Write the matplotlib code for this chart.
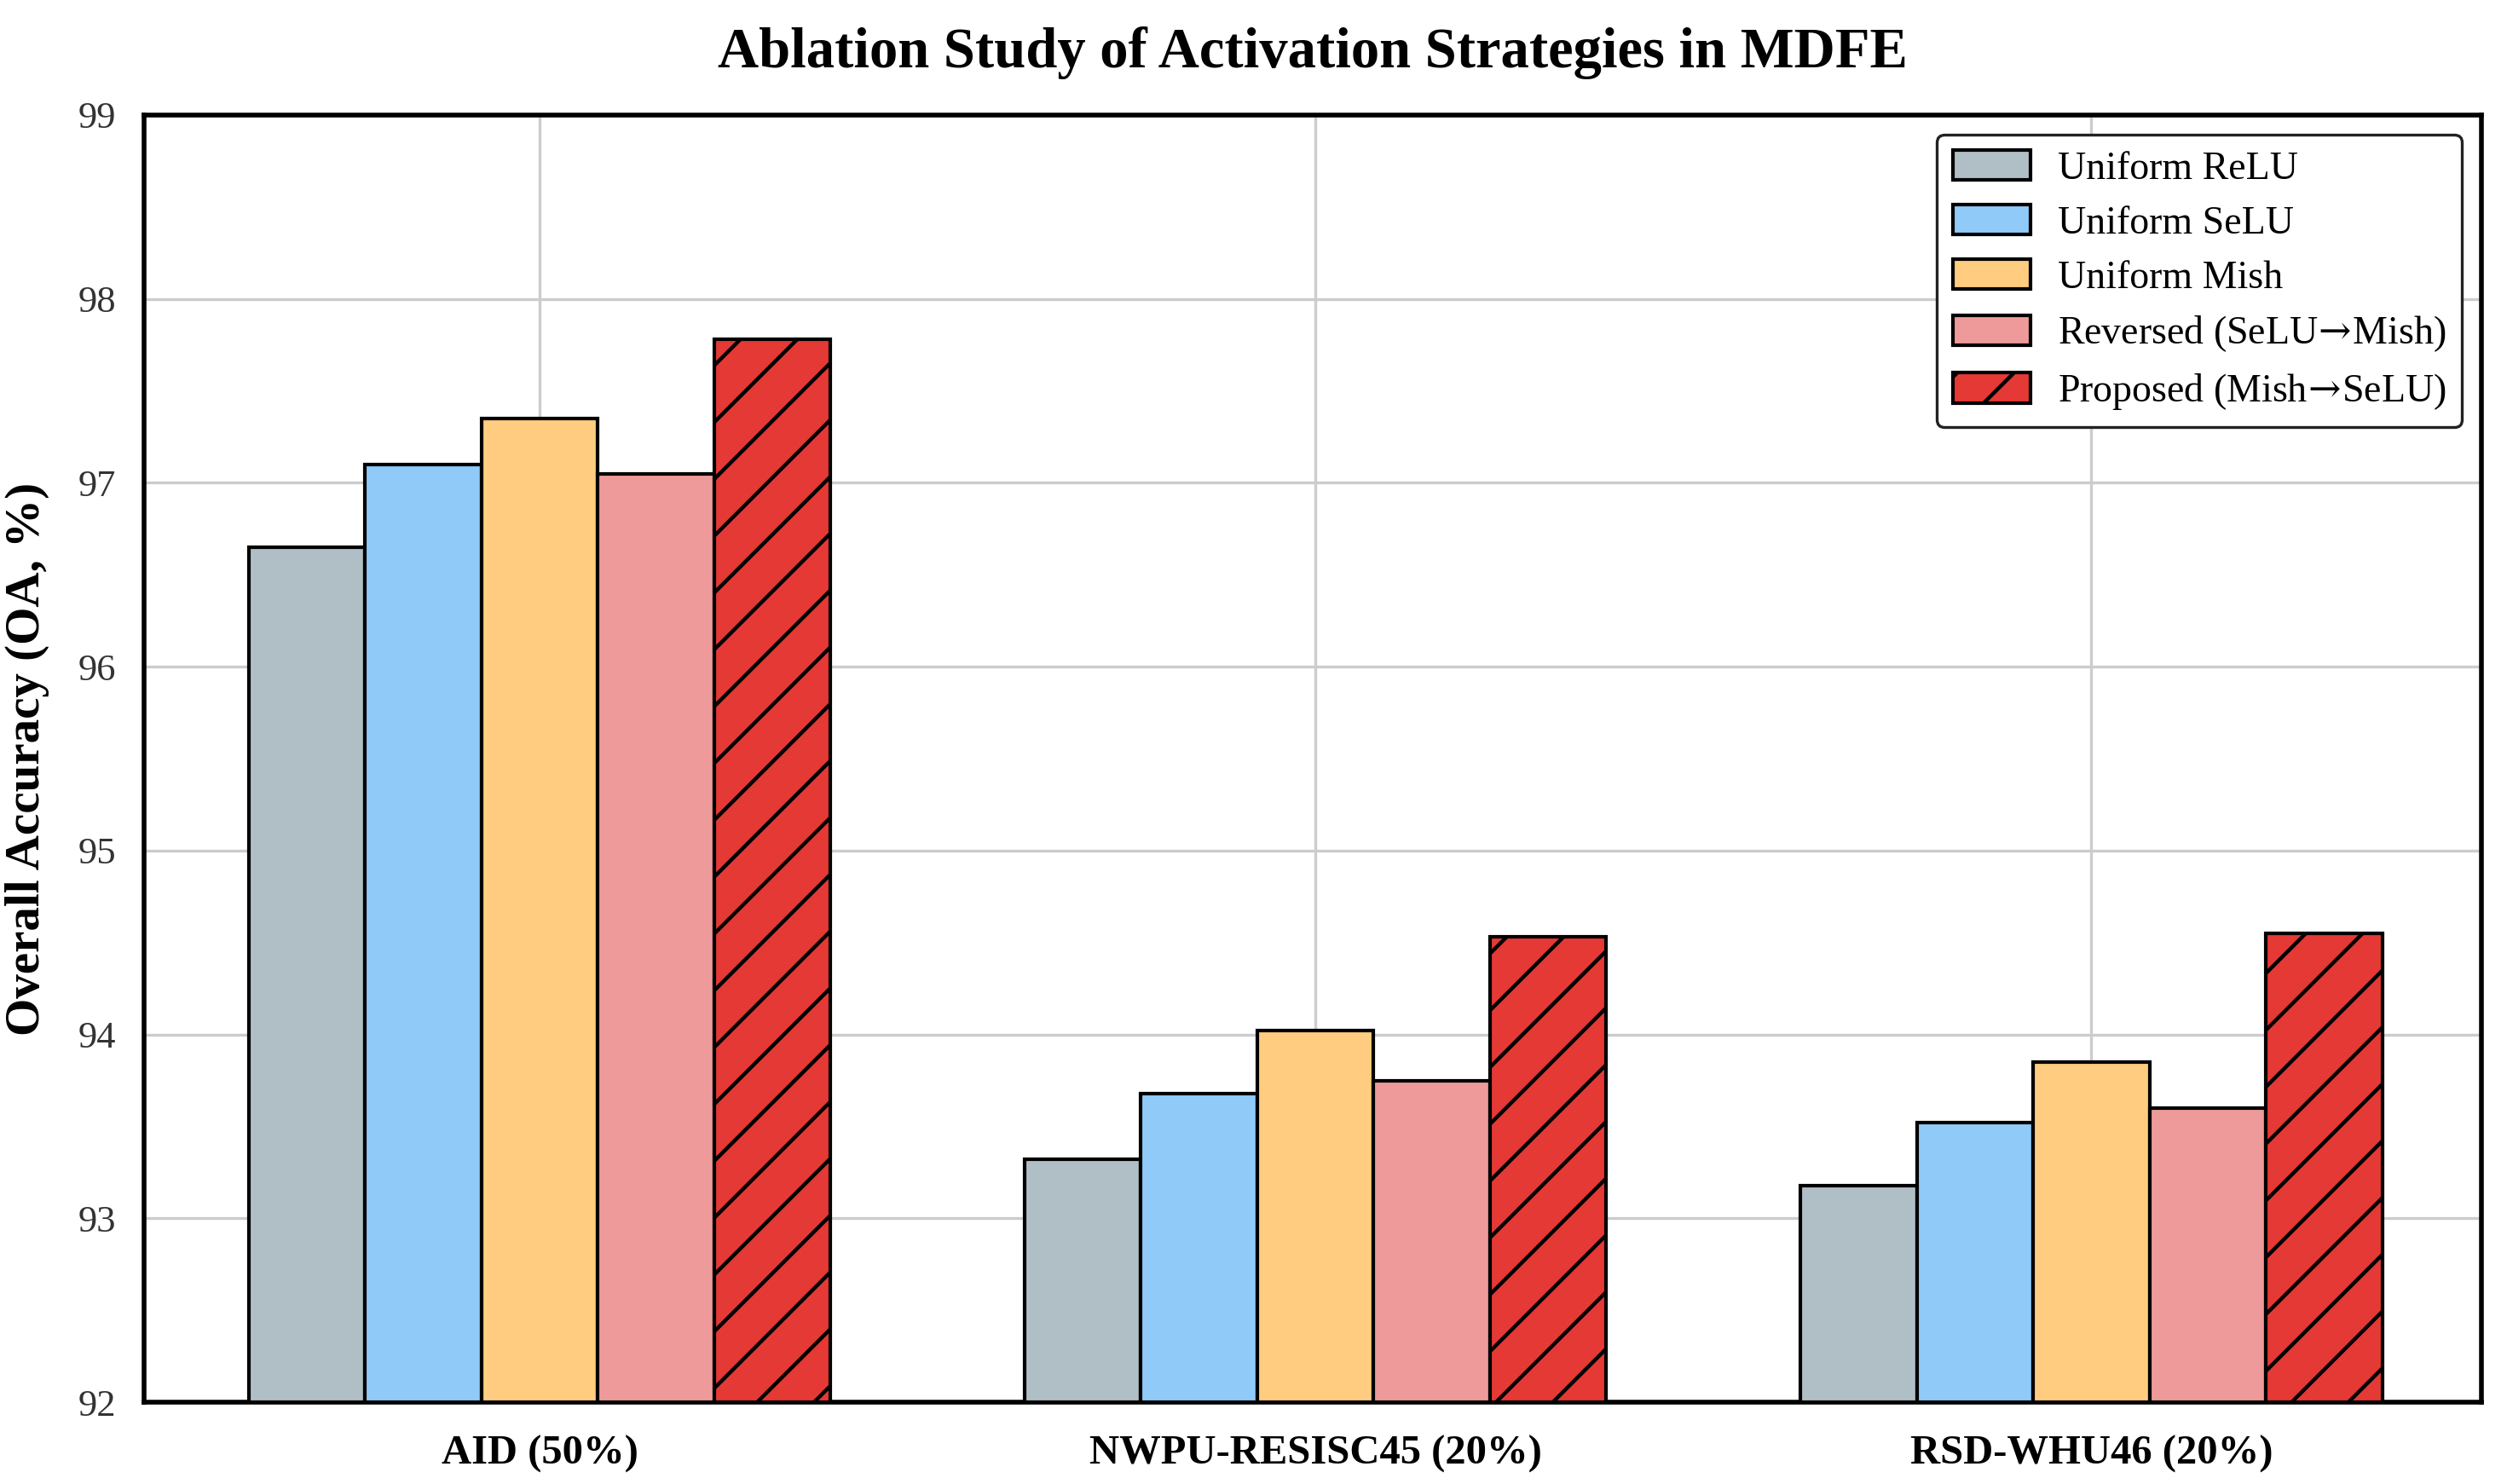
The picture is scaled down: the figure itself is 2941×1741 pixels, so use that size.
import numpy as np
import matplotlib
matplotlib.use('Agg')
import matplotlib.pyplot as plt

plt.rcParams['font.family'] = ['Liberation Serif', 'DejaVu Serif']
plt.rcParams['mathtext.fontset'] = 'dejavuserif'
plt.rcParams['hatch.linewidth'] = 1.6

datasets = ['AID (50%)', 'NWPU-RESISC45 (20%)', 'RSD-WHU46 (20%)']
arrow = '$\\!\\rightarrow\\!$'
strategies = ['Uniform ReLU', 'Uniform SeLU', 'Uniform Mish',
              'Reversed (SeLU' + arrow + 'Mish)', 'Proposed (Mish' + arrow + 'SeLU)']
relu = [96.65, 93.32, 93.18]
selu = [97.10, 93.68, 93.52]
mish = [97.35, 94.02, 93.85]
reversed_ = [97.05, 93.75, 93.60]
proposed = [97.78, 94.53, 94.55]
colors = ['#B0BEC5', '#90CAF9', '#FFCC80', '#EF9A9A', '#E53935']

series = [relu, selu, mish, reversed_, proposed]

fig = plt.figure(figsize=(14.705, 8.705), dpi=200)
ax = fig.add_axes([0.0575, 0.0551, 0.9323, 0.8674])

x = np.arange(len(datasets))
w = 0.15
for i, (vals, lab, c) in enumerate(zip(series, strategies, colors)):
    ax.bar(x + (i - 2) * w, np.array(vals) - 92, w, bottom=92, color=c,
           edgecolor='black', linewidth=1.5, label=lab,
           hatch='/' if i == 4 else None, zorder=3)

ax.set_ylim(92, 99)
ax.set_xlim(-0.51, 2.503)
ax.set_yticks(range(92, 100))
ax.set_xticks(x)
ax.set_xticklabels(datasets, fontsize=17.5, fontweight='bold')
ax.tick_params(axis='y', labelsize=16, labelcolor='#333333', length=0, pad=12)
ax.tick_params(axis='x', length=0, pad=14)
ax.grid(True, color='#cccccc', linewidth=1.2, zorder=0)
ax.set_axisbelow(True)
for s in ax.spines.values():
    s.set_linewidth(2)
    s.set_color('black')

ax.set_ylabel('Overall Accuracy (OA, %)', fontsize=20.5, fontweight='bold', labelpad=12)
ax.set_title('Ablation Study of Activation Strategies in MDFE', fontsize=24,
             fontweight='bold', pad=20)

leg = ax.legend(loc='upper right', fontsize=16.5, frameon=True, fancybox=True,
                edgecolor='#222222', framealpha=1, handlelength=2.0,
                handleheight=0.8, labelspacing=0.45, handletextpad=0.7,
                borderpad=0.4, bbox_to_anchor=(1.0, 1.0), borderaxespad=0.5)
leg.get_frame().set_linewidth(1.2)

fig.savefig('out.png', dpi=200)
